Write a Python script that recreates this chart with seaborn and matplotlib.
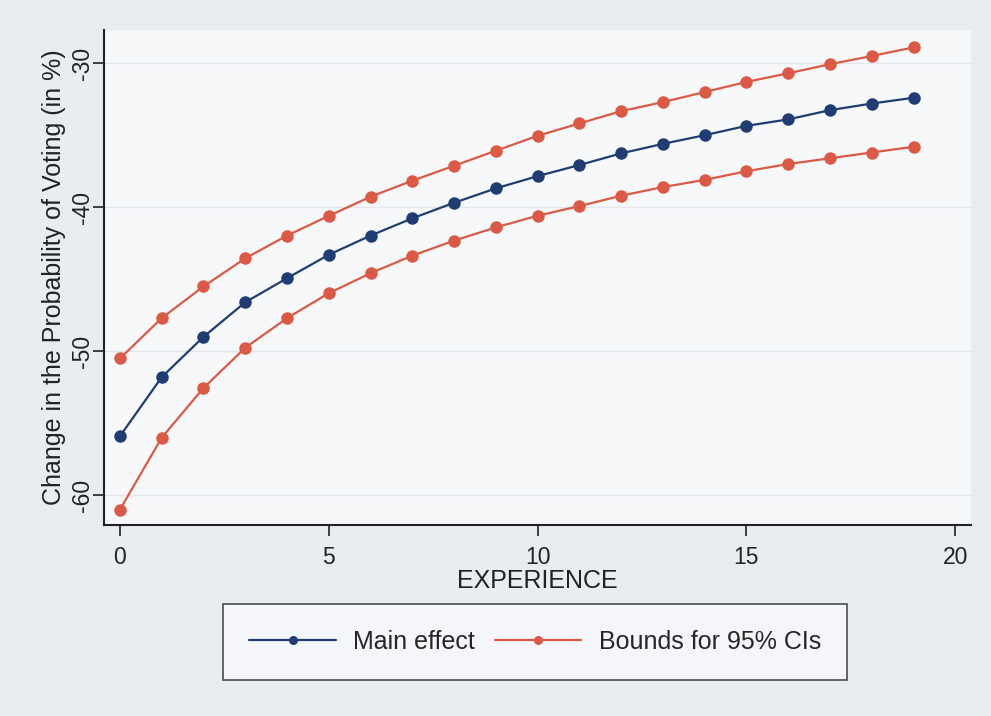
import numpy as np
import pandas as pd
import matplotlib
matplotlib.use("Agg")
import matplotlib.pyplot as plt
import seaborn as sns

experience = list(range(20))
main_effect = [-55.9, -51.8, -49.0, -46.6, -44.93, -43.3, -41.97, -40.77, -39.69, -38.69,
               -37.84, -37.07, -36.26, -35.6, -35.0, -34.35, -33.9, -33.26, -32.8, -32.4]
upper_bound = [-50.5, -47.7, -45.5, -43.55, -41.97, -40.6, -39.27, -38.16, -37.12, -36.08,
               -35.04, -34.18, -33.33, -32.7, -32.0, -31.3, -30.7, -30.07, -29.5, -28.9]
lower_bound = [-61.0, -56.0, -52.55, -49.76, -47.7, -45.97, -44.58, -43.36, -42.32, -41.4,
               -40.59, -39.92, -39.2, -38.6, -38.1, -37.5, -37.0, -36.6, -36.2, -35.8]
x_ticks = [0, 5, 10, 15, 20]
y_ticks = [-60, -50, -40, -30]

sns.set_style("white")
plt.rcParams["font.family"] = ["Liberation Sans", "DejaVu Sans"]

blue = "#1f3d73"
red = "#dc5a45"

df = pd.DataFrame({"EXPERIENCE": experience, "main": main_effect,
                   "upper": upper_bound, "lower": lower_bound})

fig = plt.figure(figsize=(9.91, 7.16), dpi=100)
fig.patch.set_facecolor("#e9edf2")
ax = fig.add_axes([0.105, 0.267, 0.875, 0.691])
ax.set_facecolor("#f6f8fa")

# faint Stata-like grid
for y in y_ticks:
    ax.axhline(y, color="#e2e6ec", lw=1, zorder=0)

line_kw = dict(marker="o", markersize=9, markeredgewidth=0, linewidth=1.6)
sns.lineplot(data=df, x="EXPERIENCE", y="upper", color=red, ax=ax, **line_kw)
sns.lineplot(data=df, x="EXPERIENCE", y="lower", color=red, ax=ax, **line_kw)
sns.lineplot(data=df, x="EXPERIENCE", y="main", color=blue, ax=ax, **line_kw)

ax.set_xlim(-0.38, 20.38)
ax.set_ylim(-62.05, -27.7)
ax.set_xticks(x_ticks)
ax.set_yticks(y_ticks)
ax.set_yticklabels([str(v) for v in y_ticks], rotation=90, va="center")
ax.tick_params(axis="both", direction="out", length=8, width=1.2, color="#222222",
               labelsize=16.5, labelcolor="#222222", left=True, bottom=True)
ax.tick_params(axis="y", pad=-1)
ax.tick_params(axis="x", pad=7)
for s in ["top", "right"]:
    ax.spines[s].set_visible(False)
for s in ["left", "bottom"]:
    ax.spines[s].set_color("#222222")
    ax.spines[s].set_linewidth(1.5)

ax.set_xlabel("EXPERIENCE", fontsize=18, color="#222222", labelpad=0)
ax.set_ylabel("Change in the Probability of Voting (in %)", fontsize=18,
              color="#222222", labelpad=4)

handles = [plt.Line2D([], [], color=blue, marker="o", markersize=6.5, markeredgewidth=0, lw=1.6),
           plt.Line2D([], [], color=red, marker="o", markersize=6.5, markeredgewidth=0, lw=1.6)]
leg = fig.legend(handles, ["Main effect", "Bounds for 95% CIs"], ncol=2,
                 loc="center", bbox_to_anchor=(0.540, 0.1034), fontsize=18,
                 frameon=True, fancybox=False, handlelength=3.45, handleheight=0.7,
                 handletextpad=0.7, columnspacing=0.8, borderpad=1.04)
leg.get_frame().set_edgecolor("#222222")
leg.get_frame().set_linewidth(1.2)
leg.get_frame().set_facecolor("#f8f9fb")

fig.savefig("out.png", dpi=100, facecolor=fig.get_facecolor())
